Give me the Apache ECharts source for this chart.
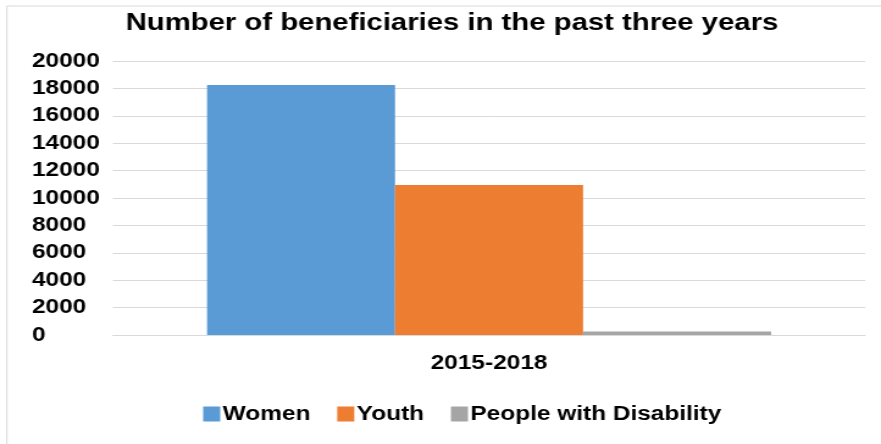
<!DOCTYPE html>
<html>
<head>
<meta charset="utf-8">
<script src="https://cdn.jsdelivr.net/npm/echarts@6/dist/echarts.min.js"></script>
<style>
html,body{margin:0;padding:0;background:#fff;overflow:hidden;}
#wrap{width:881px;height:444px;overflow:hidden;}
/* the chart is laid out narrower, then widened to fill the frame */
#chart{width:722px;height:444px;transform:scaleX(1.2202);transform-origin:0 0;}
</style>
</head>
<body>
<div id="wrap"><div id="chart"></div></div>
<script>
// Beneficiaries over the 2015-2018 period, by group
const categories = ['2015-2018'];
const seriesNames = ['Women', 'Youth', 'People with Disability'];
const women = [18250];
const youth = [10950];
const disability = [250];
const colors = ['#5B9BD5', '#ED7D31', '#A5A5A5'];

const chart = echarts.init(document.getElementById('chart'));
const font = 'Liberation Sans, Arial, sans-serif';

chart.setOption({
  animation: false,
  title: {
    text: 'Number of beneficiaries in the past three years',
    left: 98,
    top: 6,
    textStyle: { fontFamily: font, fontWeight: 'bold', fontSize: 24, color: '#000' }
  },
  graphic: [{
    type: 'rect',
    shape: { x: 5.7, y: 6, width: 900, height: 460 },
    style: { fill: 'none', stroke: '#d9d9d9', lineWidth: 1 },
    silent: true
  }],
  legend: {
    data: seriesNames,
    top: 399,
    left: 161.5,
    itemWidth: 14,
    itemHeight: 15,
    itemGap: 22,
    icon: 'rect',
    textStyle: { fontFamily: font, fontWeight: 'bold', fontSize: 20, color: '#000', padding: [0, 0, 0, -3] }
  },
  grid: { left: 92.6, right: 13, top: 61, bottom: 109 },
  xAxis: {
    type: 'category',
    data: categories,
    axisLine: { show: true, lineStyle: { color: '#d9d9d9' } },
    axisTick: { show: false },
    axisLabel: { fontFamily: font, fontWeight: 'bold', fontSize: 20, color: '#000', margin: 18 }
  },
  yAxis: {
    type: 'value',
    min: 0,
    max: 20000,
    interval: 2000,
    axisLine: { show: false },
    axisTick: { show: false },
    splitLine: { lineStyle: { color: '#d9d9d9', width: 1 } },
    axisLabel: {
      fontFamily: font, fontWeight: 'bold', fontSize: 20, color: '#000',
      align: 'left', margin: 66.4,
      formatter: v => String(v)
    }
  },
  series: [
    { name: seriesNames[0], type: 'bar', data: women, itemStyle: { color: colors[0] }, barGap: '0%', barCategoryGap: '25%' },
    { name: seriesNames[1], type: 'bar', data: youth, itemStyle: { color: colors[1] } },
    { name: seriesNames[2], type: 'bar', data: disability, itemStyle: { color: colors[2] } }
  ]
});
</script>
</body>
</html>
